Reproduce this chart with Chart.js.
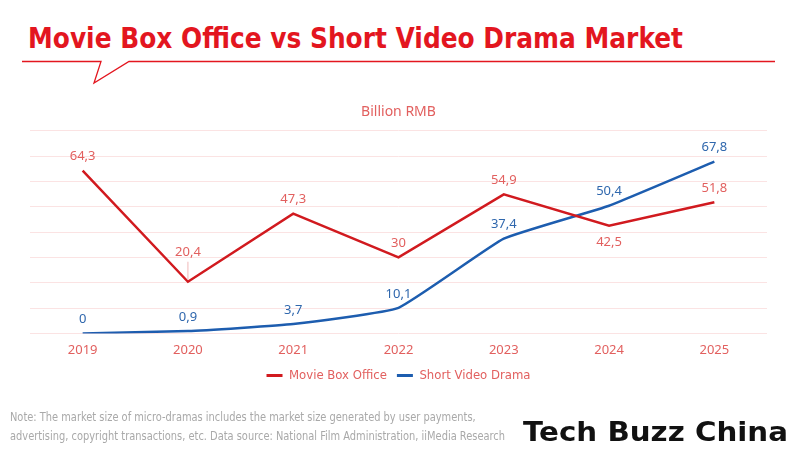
<!DOCTYPE html>
<html>
<head>
<meta charset="utf-8">
<script src="https://cdn.jsdelivr.net/npm/chart.js@4.4.1/dist/chart.umd.min.js"></script>
<style>
  html, body { margin: 0; padding: 0; background: #fff; }
  #wrap { position: relative; width: 800px; height: 450px; overflow: hidden; }
  #myChart { position: absolute; left: 0; top: 0; }
  .fit { transform-origin: 0 0; display: inline-block; white-space: nowrap; }
  .title {
    position: absolute; left: 28px; top: 21px; margin: 0;
    font-family: "Liberation Sans Narrow", "DejaVu Sans Condensed", sans-serif;
    font-weight: bold; font-size: 29px; line-height: 34px; color: #e3161f;
  }
  #bubble { position: absolute; left: 0; top: 0; }
  .note {
    position: absolute; left: 10px; top: 407px; margin: 0;
    font-family: "Liberation Sans Narrow", "DejaVu Sans Condensed", sans-serif;
    font-size: 12.5px; line-height: 19px; color: #a9a9a9;
  }
  .logo {
    position: absolute; left: 523px; top: 417px; margin: 0;
    font-family: "DejaVu Sans", sans-serif; font-weight: bold;
    font-size: 27px; line-height: 30px; color: #111;
  }
</style>
</head>
<body>
<div id="wrap">
  <h1 class="title fit" data-w="655">Movie Box Office vs Short Video Drama Market</h1>
  <svg id="bubble" width="800" height="100">
    <polyline points="22,61.5 101,61.5 94,83 129,61.5 775,61.5" fill="none" stroke="#e3161f" stroke-width="1.3"/>
  </svg>
  <canvas id="myChart" width="800" height="450"></canvas>
  <p class="note fit" data-w="495">Note: The market size of micro-dramas includes the market size generated by user payments,<br>advertising, copyright transactions, etc. Data source: National Film Administration, iiMedia Research</p>
  <p class="logo fit" data-w="265">Tech Buzz China</p>
</div>

<script>
const years = ["2019", "2020", "2021", "2022", "2023", "2024", "2025"];
const boxOffice = [64.3, 20.4, 47.3, 30, 54.9, 42.5, 51.8];
const shortDrama = [0, 0.9, 3.7, 10.1, 37.4, 50.4, 67.8];
const yTicks = [0, 10, 20, 30, 40, 50, 60, 70, 80];

const red = "#d11a1f";
const blue = "#1d5daf";
const labelFont = "13px 'Noto Sans', sans-serif";

// where each value label sits: "up", "upLine" (raised with a leader line) or "down"
const boxOfficeLabelPos = ["up", "upLine", "up", "up", "up", "down", "up"];

// squeeze the html texts to the width they have in the picture
document.querySelectorAll(".fit").forEach((el) => {
  const w = el.getBoundingClientRect().width;
  el.style.transform = "scaleX(" + (el.dataset.w / w) + ")";
});

let ctx = document.getElementById("myChart");

const valueLabels = {
  id: "valueLabels",
  afterDatasetsDraw(chart) {
    const c = chart.ctx;
    c.save();
    c.font = labelFont;
    c.textAlign = "center";
    c.textBaseline = "middle";
    chart.data.datasets.forEach((ds, i) => {
      const meta = chart.getDatasetMeta(i);
      meta.data.forEach((pt, j) => {
        const txt = String(ds.data[j]).replace(".", ",");
        const pos = ds.labelPos ? ds.labelPos[j] : "up";
        c.fillStyle = ds.labelColor;
        if (pos === "down") {
          c.fillText(txt, pt.x, pt.y + 17);
        } else if (pos === "upLine") {
          c.strokeStyle = "#f0b8b8";
          c.lineWidth = 1;
          c.beginPath();
          c.moveTo(pt.x, pt.y - 2);
          c.lineTo(pt.x, pt.y - 20);
          c.stroke();
          c.fillText(txt, pt.x, pt.y - 29);
        } else {
          c.fillText(txt, pt.x, pt.y - 14);
        }
      });
    });
    c.restore();
  }
};

let myChart = new Chart(ctx, {
  type: "line",
  data: {
    labels: years,
    datasets: [
      {
        label: "Movie Box Office",
        data: boxOffice,
        borderColor: red,
        backgroundColor: red,
        borderWidth: 2.5,
        pointRadius: 0,
        tension: 0,
        labelColor: "#e2605f",
        labelPos: boxOfficeLabelPos,
      },
      {
        label: "Short Video Drama",
        data: shortDrama,
        borderColor: blue,
        backgroundColor: blue,
        borderWidth: 2.5,
        pointRadius: 0,
        tension: 0.12,
        labelColor: "#2f67ad",
      },
    ],
  },
  options: {
    responsive: false,
    animation: false,
    layout: { padding: { top: 104, left: 30, right: 33, bottom: 58 } },
    scales: {
      x: {
        offset: true,
        grid: { display: false },
        border: { display: false },
        ticks: {
          color: "#e2605f",
          font: { family: "'Noto Sans', sans-serif", size: 13 },
          padding: 1,
        },
      },
      y: {
        min: 0,
        max: 80,
        afterBuildTicks: (axis) => { axis.ticks = yTicks.map((v) => ({ value: v })); },
        ticks: { display: false },
        grid: { color: "#fbe3e3", lineWidth: 1, drawTicks: false },
        border: { display: false },
      },
    },
    plugins: {
      title: {
        display: true,
        text: "Billion RMB",
        color: "#e2605f",
        font: { family: "'Noto Sans', sans-serif", size: 14, weight: "normal" },
        padding: { top: 0, bottom: 10 },
      },
      legend: {
        position: "bottom",
        labels: {
          color: "#e2605f",
          font: { family: "'Liberation Sans Narrow', 'DejaVu Sans Condensed', sans-serif", size: 13 },
          boxWidth: 16,
          boxHeight: 3,
          padding: 10,
          generateLabels: (chart) =>
            Chart.defaults.plugins.legend.labels.generateLabels(chart).map((l) => ({ ...l, lineWidth: 0 })),
        },
      },
      tooltip: { enabled: false },
    },
  },
  plugins: [valueLabels],
});
</script>
</body>
</html>
